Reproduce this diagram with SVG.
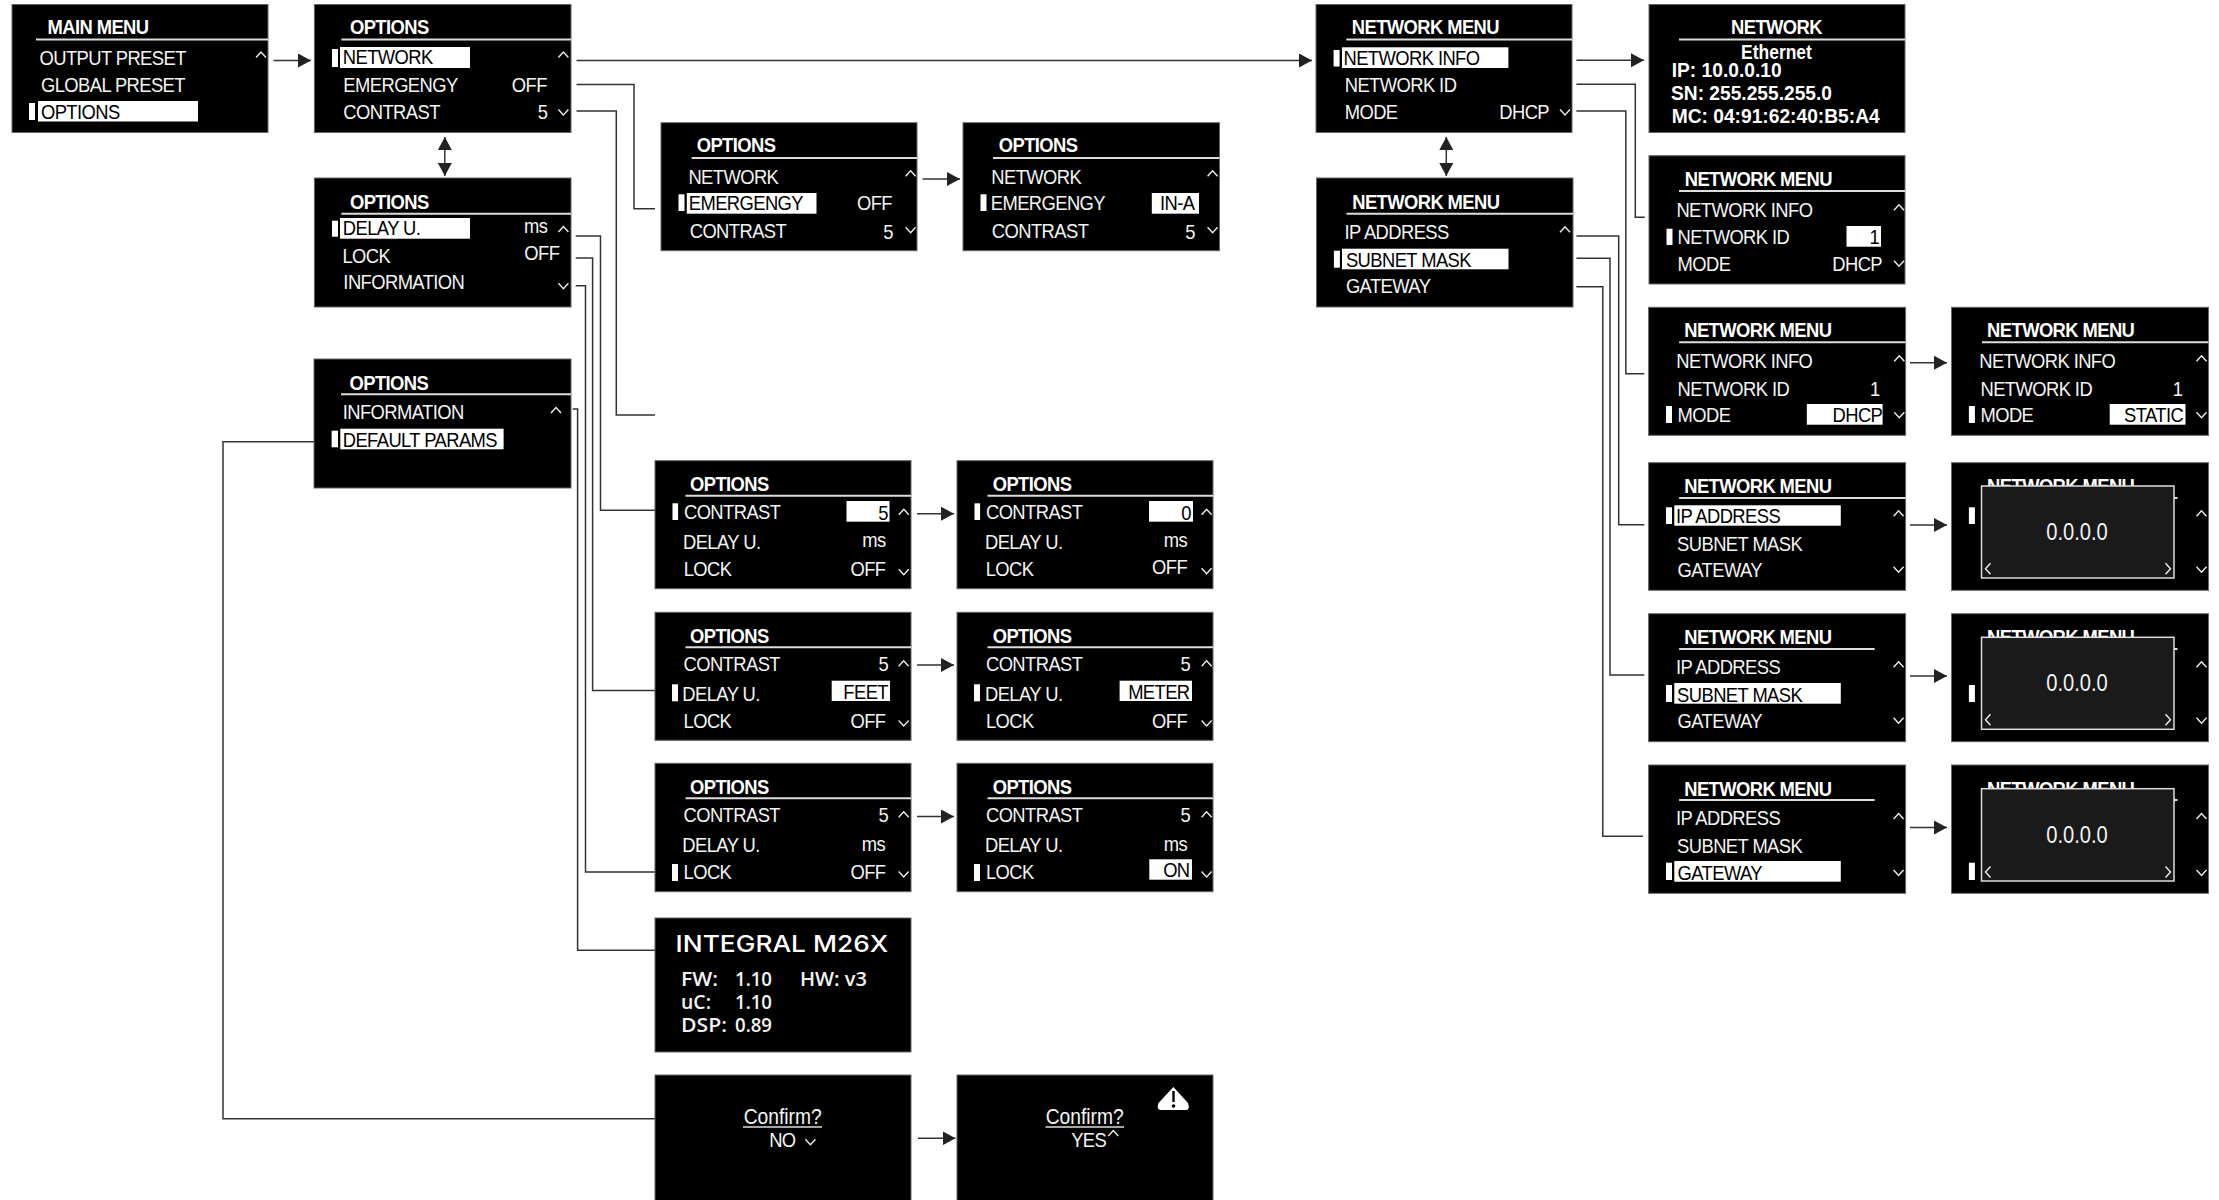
<svg xmlns="http://www.w3.org/2000/svg" width="2219" height="1200" viewBox="0 0 2219 1200">
<style>
text{font-family:"Liberation Sans",Arial,sans-serif;font-size:21px;letter-spacing:-.65px;fill:#f4f4f4}
.t{transform:scale(.875,1)}
.h{font-weight:700;fill:#fff}
.k{fill:#000}
.r{text-anchor:end}
.c{text-anchor:middle}
.q{font-size:22px;letter-spacing:0}
.v{font-size:23px;letter-spacing:0}
.box{fill:#000;stroke:#666;stroke-width:1}
.ln{stroke:#ddd;stroke-width:2;fill:none}
.sel{fill:#fff}
.mk{fill:#fff}
.ch{fill:none;stroke:#eee;stroke-width:1.4}
.pop{fill:#1a1a1a;stroke:#ddd;stroke-width:1.5}
.cn{fill:none;stroke:#333;stroke-width:1.5}
.b{font-size:20px;letter-spacing:0;font-weight:700;fill:#fff}
.i{font-family:"Open Sans","Liberation Sans",sans-serif;font-size:19px;letter-spacing:0;font-weight:600;fill:#f4f4f4}
.n{font-family:Inter,"Open Sans",sans-serif;font-size:23px;letter-spacing:0;font-weight:500;fill:#fff}
</style>
<defs>
<marker id="arr" markerUnits="userSpaceOnUse" markerWidth="14" markerHeight="14" refX="13" refY="7" orient="auto-start-reverse"><path d="M0 0L13 7L0 14Z" fill="#222"/></marker>
<path id="up" d="M-5 3L0-2.5L5 3"/>
<path id="dn" d="M-5-2.5L0 3L5-2.5"/>
<path id="lf" d="M2.500-5.500L-2.500 0L2.500 5.500"/>
<path id="rt" d="M-2.500-5.500L2.500 0L-2.500 5.500"/>
</defs>

<g id="connectors" class="cn">
<path d="M273.500 60.500H311" marker-end="url(#arr)"/>
<path d="M576.500 60.500H1312" marker-end="url(#arr)"/>
<path d="M576.500 84.500H634V208.700H655"/>
<path d="M576.500 111H616.300V415H655"/>
<path d="M444.800 137V176" marker-start="url(#arr)" marker-end="url(#arr)"/>
<path d="M575.700 236H600.500V510.300H655"/>
<path d="M575.700 258H592.600V690.600H655"/>
<path d="M575.700 285.700H585.500V872H655"/>
<path d="M572.800 409H577.600V950.300H655"/>
<path d="M314 441.700H223V1118.700H655"/>
<path d="M922.500 179H960" marker-end="url(#arr)"/>
<path d="M917 513.700H954" marker-end="url(#arr)"/>
<path d="M917 665H954" marker-end="url(#arr)"/>
<path d="M917 816.500H954" marker-end="url(#arr)"/>
<path d="M918 1138.300H955.500" marker-end="url(#arr)"/>
<path d="M1576.400 60.300H1644" marker-end="url(#arr)"/>
<path d="M1576.400 84.300H1635.300V217.300H1644.800"/>
<path d="M1576.400 111H1625.800V373.700H1644.300"/>
<path d="M1446.300 137V176" marker-start="url(#arr)" marker-end="url(#arr)"/>
<path d="M1576.400 236H1618.700V524.700H1644.300"/>
<path d="M1576.400 258.300H1610V675H1644.300"/>
<path d="M1576.400 286.700H1602.800V836.300H1643"/>
<path d="M1910 362.700H1947" marker-end="url(#arr)"/>
<path d="M1910 525H1947" marker-end="url(#arr)"/>
<path d="M1910 676H1947" marker-end="url(#arr)"/>
<path d="M1910 827.500H1947" marker-end="url(#arr)"/>
</g>

<g id="main-menu" transform="translate(12 4.500)">
<rect class="box" width="256" height="128"/><path class="ln" d="M24 35H256"/>
<rect class="sel" x="26" y="96.500" width="160" height="20.500"/><rect class="mk" x="17" y="98.500" width="6" height="17"/>
<use class="ch" href="#up" x="249" y="50"/>
<g class="t"><text class="h" x="40.600" y="30">MAIN MENU</text><text x="31.400" y="60.500">OUTPUT PRESET</text><text x="33.100" y="88">GLOBAL PRESET</text><text class="k" x="33.100" y="114.500">OPTIONS</text></g>
</g>

<g id="options-1" transform="translate(314.400 4.500)">
<rect class="box" width="256.600" height="128"/><path class="ln" d="M27 35H256.600"/>
<rect class="sel" x="25.600" y="42.500" width="130" height="21"/><rect class="mk" x="17.600" y="44.500" width="6" height="18"/>
<use class="ch" href="#up" x="249" y="50"/><use class="ch" href="#dn" x="249" y="107.500"/>
<g class="t"><text class="h" x="40.600" y="30">OPTIONS</text><text class="k" x="32.500" y="60">NETWORK</text><text x="33.100" y="88">EMERGENGY</text><text class="r" x="265.700" y="88">OFF</text><text x="33.100" y="115">CONTRAST</text><text class="r" x="266.300" y="115">5</text></g>
</g>

<g id="options-2" transform="translate(314.400 178)">
<rect class="box" width="256.600" height="129"/><path class="ln" d="M27 35.700H256.600"/>
<rect class="sel" x="25.600" y="40" width="130" height="20.700"/><rect class="mk" x="17.600" y="42.700" width="6" height="16"/>
<use class="ch" href="#up" x="249" y="51"/><use class="ch" href="#dn" x="249" y="107.700"/>
<g class="t"><text class="h" x="40.600" y="31">OPTIONS</text><text class="k" x="32.500" y="57">DELAY U.</text><text class="r" x="266.300" y="55">ms</text><text x="32" y="84.700">LOCK</text><text class="r" x="280" y="82">OFF</text><text x="33.100" y="111">INFORMATION</text></g>
</g>

<g id="options-3" transform="translate(314 359)">
<rect class="box" width="257" height="129"/><path class="ln" d="M27 35.300H257"/>
<rect class="sel" x="26.300" y="69.700" width="163.300" height="20.600"/><rect class="mk" x="17.600" y="71.700" width="6.400" height="16.600"/>
<use class="ch" href="#up" x="242" y="51"/>
<g class="t"><text class="h" x="40.600" y="31">OPTIONS</text><text x="32.800" y="60">INFORMATION</text><text class="k" x="32.800" y="87.700">DEFAULT PARAMS</text></g>
</g>

<g id="emergency-a" transform="translate(661 122.700)">
<rect class="box" width="256" height="128"/><path class="ln" d="M30.600 35.300H256"/>
<rect class="sel" x="25.800" y="70.300" width="129.700" height="20.700"/><rect class="mk" x="17.500" y="71.600" width="6" height="16.700"/>
<use class="ch" href="#up" x="249.600" y="50.600"/><use class="ch" href="#dn" x="249.600" y="107"/>
<g class="t"><text class="h" x="40.800" y="29.600">OPTIONS</text><text x="31.300" y="61">NETWORK</text><text class="k" x="31.700" y="87.600">EMERGENGY</text><text class="r" x="264" y="87.600">OFF</text><text x="32.800" y="115">CONTRAST</text><text class="r" x="265.100" y="116">5</text></g>
</g>

<g id="emergency-b" transform="translate(963 122.700)">
<rect class="box" width="256.500" height="128"/><path class="ln" d="M30 35.300H256.500"/>
<rect class="sel" x="188.800" y="70.300" width="47.200" height="20.700"/><rect class="mk" x="17.500" y="71.600" width="6" height="16.700"/>
<use class="ch" href="#up" x="249.600" y="50.600"/><use class="ch" href="#dn" x="249.600" y="107"/>
<g class="t"><text class="h" x="40.900" y="29.600">OPTIONS</text><text x="32.300" y="61">NETWORK</text><text x="31.700" y="87.600">EMERGENGY</text><text class="r k" x="264.600" y="87.600">IN-A</text><text x="33" y="115">CONTRAST</text><text class="r" x="265.100" y="116">5</text></g>
</g>

<g id="contrast-a" transform="translate(655 460.700)">
<rect class="box" width="256" height="128"/><path class="ln" d="M30.500 35H256"/>
<rect class="sel" x="191.500" y="40.300" width="43" height="20.700"/><rect class="mk" x="17.500" y="42.600" width="5.600" height="16.700"/>
<use class="ch" href="#up" x="248.800" y="51"/><use class="ch" href="#dn" x="248.800" y="111"/>
<g class="t"><text class="h" x="40" y="30.300">OPTIONS</text><text x="33.100" y="58.600">CONTRAST</text><text class="r k" x="266.300" y="59">5</text><text x="32" y="88.300">DELAY U.</text><text class="r" x="263.500" y="86.600">ms</text><text x="32.800" y="115.300">LOCK</text><text class="r" x="263.400" y="115">OFF</text></g>
</g>

<g id="contrast-b" transform="translate(957 460.700)">
<rect class="box" width="256" height="128"/><path class="ln" d="M30.500 35H256"/>
<rect class="sel" x="192" y="40.300" width="44" height="20.700"/><rect class="mk" x="17.500" y="42.600" width="5.600" height="16.700"/>
<use class="ch" href="#up" x="249.600" y="51"/><use class="ch" href="#dn" x="249.600" y="110"/>
<g class="t"><text class="h" x="40.800" y="30.300">OPTIONS</text><text x="33.100" y="58.600">CONTRAST</text><text class="r k" x="267.400" y="59">0</text><text x="32" y="88.300">DELAY U.</text><text class="r" x="263" y="86.600">ms</text><text x="32.800" y="115.300">LOCK</text><text class="r" x="263" y="113">OFF</text></g>
</g>

<g id="delay-a" transform="translate(655 612.300)">
<rect class="box" width="256" height="128"/><path class="ln" d="M30.500 35H256"/>
<rect class="sel" x="176.700" y="68.400" width="58.300" height="20.300"/><rect class="mk" x="17" y="72" width="6" height="17"/>
<use class="ch" href="#up" x="248.700" y="51"/><use class="ch" href="#dn" x="248.700" y="110.700"/>
<g class="t"><text class="h" x="40" y="30.400">OPTIONS</text><text x="32.600" y="58.400">CONTRAST</text><text class="r" x="266.600" y="59">5</text><text x="31.200" y="88.400">DELAY U.</text><text class="r k" x="266.300" y="86.400">FEET</text><text x="32.600" y="115.700">LOCK</text><text class="r" x="263.400" y="115.700">OFF</text></g>
</g>

<g id="delay-b" transform="translate(957 612.300)">
<rect class="box" width="256" height="128"/><path class="ln" d="M30.500 35H256"/>
<rect class="sel" x="162.600" y="68.400" width="72.400" height="20.300"/><rect class="mk" x="17" y="72" width="6" height="17"/>
<use class="ch" href="#up" x="249.600" y="51"/><use class="ch" href="#dn" x="249.600" y="110.700"/>
<g class="t"><text class="h" x="40.800" y="30.400">OPTIONS</text><text x="33.100" y="58.400">CONTRAST</text><text class="r" x="266.600" y="59">5</text><text x="32" y="88.400">DELAY U.</text><text class="r k" x="265.800" y="86.400">METER</text><text x="33.100" y="115.700">LOCK</text><text class="r" x="262.900" y="115.700">OFF</text></g>
</g>

<g id="lock-a" transform="translate(655 763.300)">
<rect class="box" width="256" height="128.400"/><path class="ln" d="M30.500 35H256"/>
<rect class="mk" x="17" y="100.700" width="6" height="17"/>
<use class="ch" href="#up" x="248.700" y="51"/><use class="ch" href="#dn" x="248.700" y="110.700"/>
<g class="t"><text class="h" x="40" y="30.400">OPTIONS</text><text x="32.600" y="58.700">CONTRAST</text><text class="r" x="266.600" y="59">5</text><text x="31.200" y="88.700">DELAY U.</text><text class="r" x="262.900" y="87.400">ms</text><text x="32.600" y="115.400">LOCK</text><text class="r" x="263.400" y="115.400">OFF</text></g>
</g>

<g id="lock-b" transform="translate(957 763.300)">
<rect class="box" width="256" height="128.400"/><path class="ln" d="M30.500 35H256"/>
<rect class="sel" x="192.300" y="96" width="42.700" height="20.400"/><rect class="mk" x="17" y="100.700" width="6" height="17"/>
<use class="ch" href="#up" x="249.600" y="51"/><use class="ch" href="#dn" x="249.600" y="110.700"/>
<g class="t"><text class="h" x="40.800" y="30.400">OPTIONS</text><text x="33.100" y="58.700">CONTRAST</text><text class="r" x="266.600" y="59">5</text><text x="32" y="88.700">DELAY U.</text><text class="r" x="262.900" y="87.400">ms</text><text x="33.100" y="115.400">LOCK</text><text class="r k" x="265.800" y="114">ON</text></g>
</g>

<g id="information" transform="translate(655 918)">
<rect class="box" width="256" height="134"/>
<text class="n" x="20.600" y="34" textLength="212.700" lengthAdjust="spacingAndGlyphs">INTEGRAL M26X</text>
<text class="i" x="26" y="68" textLength="37" lengthAdjust="spacingAndGlyphs">FW:</text><text class="i" x="80" y="68" textLength="37" lengthAdjust="spacingAndGlyphs">1.10</text><text class="i" x="145" y="68" textLength="67" lengthAdjust="spacingAndGlyphs">HW: v3</text>
<text class="i" x="26" y="90.700" textLength="30" lengthAdjust="spacingAndGlyphs">uC:</text><text class="i" x="80" y="90.700" textLength="37" lengthAdjust="spacingAndGlyphs">1.10</text>
<text class="i" x="26" y="113.700" textLength="46" lengthAdjust="spacingAndGlyphs">DSP:</text><text class="i" x="80" y="113.700" textLength="37" lengthAdjust="spacingAndGlyphs">0.89</text>
</g>

<g id="confirm-a" transform="translate(655 1075)">
<rect class="box" width="256" height="135"/><path class="ln" d="M88 52H167" style="stroke-width:1.500"/>
<use class="ch" href="#dn" x="155.400" y="66.700"/>
<g class="t"><text class="c q" x="146" y="48.700">Confirm?</text><text x="130.500" y="72.300">NO</text></g>
</g>

<g id="confirm-b" transform="translate(957 1075)">
<rect class="box" width="256" height="135"/><path class="ln" d="M88.500 52H167" style="stroke-width:1.500"/>
<use class="ch" href="#up" x="156.300" y="58"/>
<path d="M216.400 12L231 28Q233.500 35 229 35L204 35Q199 35 201.500 28Z" fill="#fff"/><rect x="215.300" y="16" width="2.400" height="11" fill="#000"/><circle cx="216.500" cy="31" r="1.800" fill="#000"/>
<g class="t"><text class="c q" x="146" y="48.700">Confirm?</text><text x="130.500" y="72.300">YES</text></g>
</g>

<g id="network-menu-1" transform="translate(1316 4.500)">
<rect class="box" width="256" height="128"/><path class="ln" d="M30.300 35H256"/>
<rect class="sel" x="26" y="42.800" width="166.400" height="20.700"/><rect class="mk" x="17.600" y="45.500" width="6" height="16.500"/>
<use class="ch" href="#dn" x="249" y="107.500"/>
<g class="t"><text class="h" x="40.900" y="30">NETWORK MENU</text><text class="k" x="31.400" y="60.500">NETWORK INFO</text><text x="32.800" y="88">NETWORK ID</text><text x="32.800" y="114.500">MODE</text><text class="r" x="266.300" y="114.500">DHCP</text></g>
</g>

<g id="network-menu-2" transform="translate(1316.500 178)">
<rect class="box" width="256.500" height="129"/><path class="ln" d="M30 35.700H256.500"/>
<rect class="sel" x="25.500" y="70.700" width="166.500" height="20.600"/><rect class="mk" x="17.400" y="72.700" width="6" height="17"/>
<use class="ch" href="#up" x="248.500" y="51.300"/>
<g class="t"><text class="h" x="40.800" y="31.300">NETWORK MENU</text><text x="32" y="61.300">IP ADDRESS</text><text class="k" x="33.600" y="88.700">SUBNET MASK</text><text x="33.600" y="115.300">GATEWAY</text></g>
</g>

<g id="network" transform="translate(1649 4.500)">
<rect class="box" width="256" height="128"/><path class="ln" d="M30 35H256"/>
<g class="t"><text class="h c" x="145.700" y="29.800">NETWORK</text></g>
<text class="b c" x="127.500" y="54.800" textLength="70.800" lengthAdjust="spacingAndGlyphs">Ethernet</text>
<text class="b" x="22.700" y="72.800" textLength="110" lengthAdjust="spacingAndGlyphs">IP: 10.0.0.10</text>
<text class="b" x="22" y="95.500" textLength="161" lengthAdjust="spacingAndGlyphs">SN: 255.255.255.0</text>
<text class="b" x="22.700" y="118.200" textLength="208" lengthAdjust="spacingAndGlyphs">MC: 04:91:62:40:B5:A4</text>
</g>

<g id="network-id" transform="translate(1649 155.700)">
<rect class="box" width="256" height="128.300"/><path class="ln" d="M30 35.300H256"/>
<rect class="sel" x="197.500" y="70.300" width="34.500" height="20.700"/><rect class="mk" x="17.500" y="73" width="6" height="16.300"/>
<use class="ch" href="#up" x="250" y="51.600"/><use class="ch" href="#dn" x="250" y="107.600"/>
<g class="t"><text class="h" x="40.800" y="30.300">NETWORK MENU</text><text x="31.300" y="61">NETWORK INFO</text><text x="32.700" y="88.300">NETWORK ID</text><text class="r k" x="262.900" y="88.300">1</text><text x="32.700" y="115">MODE</text><text class="r" x="266.300" y="115">DHCP</text></g>
</g>

<g id="mode-a" transform="translate(1648.600 307.300)">
<rect class="box" width="257" height="128"/><path class="ln" d="M30.500 35H257"/>
<rect class="sel" x="158.200" y="96.700" width="75.800" height="20.700"/><rect class="mk" x="17.400" y="98.700" width="6" height="17"/>
<use class="ch" href="#up" x="250.700" y="51"/><use class="ch" href="#dn" x="250.700" y="107.400"/>
<g class="t"><text class="h" x="40.700" y="29.400">NETWORK MENU</text><text x="31.700" y="61">NETWORK INFO</text><text x="33.100" y="88.700">NETWORK ID</text><text class="r" x="264" y="88.700">1</text><text x="33.100" y="114.700">MODE</text><text class="r k" x="267.100" y="114.700">DHCP</text></g>
</g>

<g id="mode-b" transform="translate(1951.500 307.300)">
<rect class="box" width="257" height="128"/><path class="ln" d="M30.500 35H257"/>
<rect class="sel" x="158.200" y="96.700" width="75.800" height="20.700"/><rect class="mk" x="17.400" y="98.700" width="6" height="17"/>
<use class="ch" href="#up" x="250" y="51"/><use class="ch" href="#dn" x="250" y="107.400"/>
<g class="t"><text class="h" x="40.700" y="29.400">NETWORK MENU</text><text x="31.700" y="61">NETWORK INFO</text><text x="33.100" y="88.700">NETWORK ID</text><text class="r" x="264" y="88.700">1</text><text x="33.100" y="114.700">MODE</text><text class="r k" x="264.800" y="114.700">STATIC</text></g>
</g>

<g id="ip-a" transform="translate(1648.600 462.700)">
<rect class="box" width="257" height="127.600"/><path class="ln" d="M30.500 35.300H257"/>
<rect class="sel" x="25.700" y="42.600" width="166.500" height="20.400"/><rect class="mk" x="17.400" y="44.600" width="6" height="16.700"/>
<use class="ch" href="#up" x="250" y="50.600"/><use class="ch" href="#dn" x="250" y="106.600"/>
<g class="t"><text class="h" x="40.700" y="30">NETWORK MENU</text><text class="k" x="31.200" y="60">IP ADDRESS</text><text x="32.600" y="88">SUBNET MASK</text><text x="33.100" y="114">GATEWAY</text></g>
</g>

<g id="ip-b" transform="translate(1951.500 462.700)">
<rect class="box" width="257" height="127.600"/><path class="ln" d="M30.500 35.300H226"/>
<g class="t"><text class="h" x="40.700" y="30">NETWORK MENU</text></g>
<rect class="mk" x="17.400" y="44.600" width="6" height="16.700"/>
<use class="ch" href="#up" x="250" y="50.600"/><use class="ch" href="#dn" x="250" y="106.600"/>
<rect class="pop" x="30" y="23.300" width="192.500" height="92"/>
<use class="ch" href="#lf" x="36.500" y="106"/><use class="ch" href="#rt" x="216.500" y="106"/>
<g class="t"><text class="c v" x="143.400" y="77.300">0.0.0.0</text></g>
</g>

<g id="subnet-a" transform="translate(1648.600 613.700)">
<rect class="box" width="257" height="128"/><path class="ln" d="M30.500 35.300H226"/>
<rect class="sel" x="25.700" y="69.300" width="166.500" height="20.700"/><rect class="mk" x="17.400" y="71.300" width="6" height="17"/>
<use class="ch" href="#up" x="250" y="50.600"/><use class="ch" href="#dn" x="250" y="106.600"/>
<g class="t"><text class="h" x="40.700" y="30.600">NETWORK MENU</text><text x="31.200" y="60.300">IP ADDRESS</text><text class="k" x="32.600" y="88">SUBNET MASK</text><text x="33.100" y="114.600">GATEWAY</text></g>
</g>

<g id="subnet-b" transform="translate(1951.500 613.700)">
<rect class="box" width="257" height="128"/><path class="ln" d="M30.500 35.300H226"/>
<g class="t"><text class="h" x="40.700" y="30.600">NETWORK MENU</text></g>
<rect class="mk" x="17.400" y="71.300" width="6" height="17"/>
<use class="ch" href="#up" x="250" y="50.600"/><use class="ch" href="#dn" x="250" y="106.600"/>
<rect class="pop" x="30" y="23.600" width="192.500" height="92"/>
<use class="ch" href="#lf" x="36.500" y="106"/><use class="ch" href="#rt" x="216.500" y="106"/>
<g class="t"><text class="c v" x="143.400" y="77.600">0.0.0.0</text></g>
</g>

<g id="gateway-a" transform="translate(1648.600 765)">
<rect class="box" width="257" height="128.300"/><path class="ln" d="M30.500 35H226"/>
<rect class="sel" x="25.700" y="96" width="166.500" height="20.700"/><rect class="mk" x="17.400" y="97.700" width="6" height="17.300"/>
<use class="ch" href="#up" x="250" y="51"/><use class="ch" href="#dn" x="250" y="107.500"/>
<g class="t"><text class="h" x="40.700" y="30.600">NETWORK MENU</text><text x="31.200" y="60">IP ADDRESS</text><text x="32.600" y="88">SUBNET MASK</text><text class="k" x="33.100" y="115">GATEWAY</text></g>
</g>

<g id="gateway-b" transform="translate(1951.500 765)">
<rect class="box" width="257" height="128.300"/><path class="ln" d="M30.500 35H226"/>
<g class="t"><text class="h" x="40.700" y="30.600">NETWORK MENU</text></g>
<rect class="mk" x="17.400" y="97.700" width="6" height="17.300"/>
<use class="ch" href="#up" x="250" y="51"/><use class="ch" href="#dn" x="250" y="107.500"/>
<rect class="pop" x="30" y="23.700" width="192.500" height="92.300"/>
<use class="ch" href="#lf" x="36.500" y="107"/><use class="ch" href="#rt" x="216.500" y="107"/>
<g class="t"><text class="c v" x="143.400" y="77.700">0.0.0.0</text></g>
</g>
</svg>
